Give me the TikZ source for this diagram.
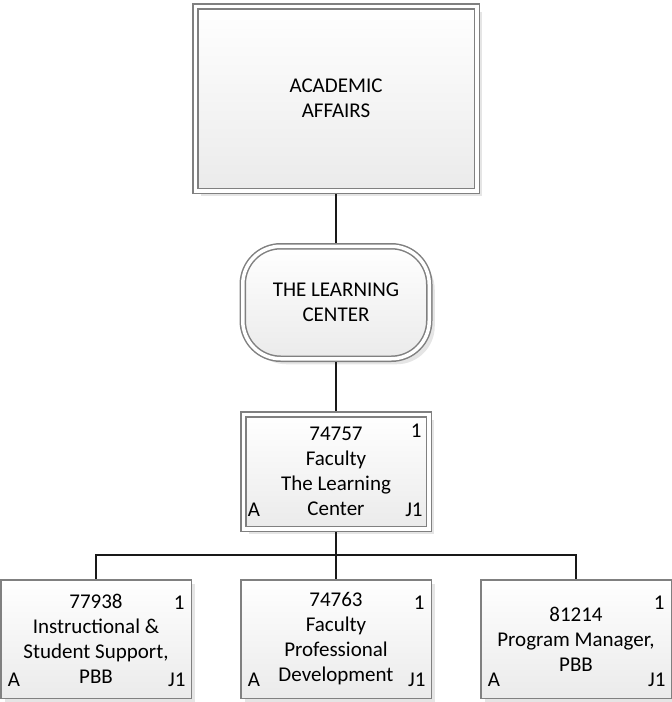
\documentclass[tikz,border=0pt]{standalone}
\usepackage{fontspec}
\setmainfont{Carlito}
\usetikzlibrary{positioning,shadows}
\tikzset{
    %Define style for connectors
    link/.style={
           draw=black!90,
           line width=1pt},
    %Define style for double framed boxes
    dblbox/.style={
           rectangle,
           draw=black!50, line width=0.75pt,
           double=white, double distance=1.75pt,
           outer sep=1.625pt,
           top color=white, bottom color=black!8,
           general shadow={fill=black!10, shadow xshift=2.75pt, shadow yshift=-2.75pt},
           align=center},
    topbox/.style={
           dblbox,
           minimum width=140.75pt,
           minimum height=92.25pt},
    unitbox/.style={
           dblbox,
           rounded corners=19pt,
           minimum width=93.25pt,
           minimum height=56.25pt},
    %Define style for position boxes
    posbox/.style={
           rectangle,
           draw=black!50, line width=0.75pt,
           top color=white, bottom color=black!8,
           general shadow={fill=black!10, shadow xshift=2pt, shadow yshift=-2pt},
           minimum width=95.25pt,
           minimum height=59.25pt,
           align=center,
           corners={3.6pt}{8.3pt}{6.25pt}},
    cornertxt/.style={inner sep=0pt},
    % corner texts: right inset, top inset, bottom inset
    corners/.style n args={3}{
           label={[cornertxt,anchor=north east,xshift=-#1,yshift=-#2]north east:1},
           label={[cornertxt,anchor=base west,xshift=3.75pt,yshift=#3]south west:A},
           label={[cornertxt,anchor=base east,xshift=-#1+0.5pt,yshift=#3]south east:J1}}
}
\begin{document}
\begin{tikzpicture}[x=0.5pt,y=-0.5pt,font=\fontsize{10.5pt}{12.5pt}\selectfont]
\useasboundingbox (0,0) rectangle (672,702);
\node[topbox] (aa) at (336,98.5) {ACADEMIC\\AFFAIRS};
\node[unitbox, below=24.5pt of aa] (tlc) {THE LEARNING\\CENTER};
\node[dblbox, minimum width=92.75pt, minimum height=57.25pt,
  corners={5pt}{6.2pt}{7.75pt}, below=24.5pt of tlc] (p74757)
  {74757\\Faculty\\The Learning\\Center};
\node[posbox, below=23.5pt of p74757] (p74763) {74763\\Faculty\\Professional\\Development};
\node[posbox, left=24pt of p74763] (p77938) {77938\\Instructional \&\\Student Support,\\PBB};
\node[posbox, right=24pt of p74763] (p81214) {81214\\Program Manager,\\PBB};
 \path[link]
    (aa) edge (tlc)
    (tlc) edge (p74757);
\foreach \n in {p77938,p74763,p81214}
  \draw[link] (p74757.south) -- ++(0,-11.5pt) -| (\n.north);
\end{tikzpicture}
\end{document}
